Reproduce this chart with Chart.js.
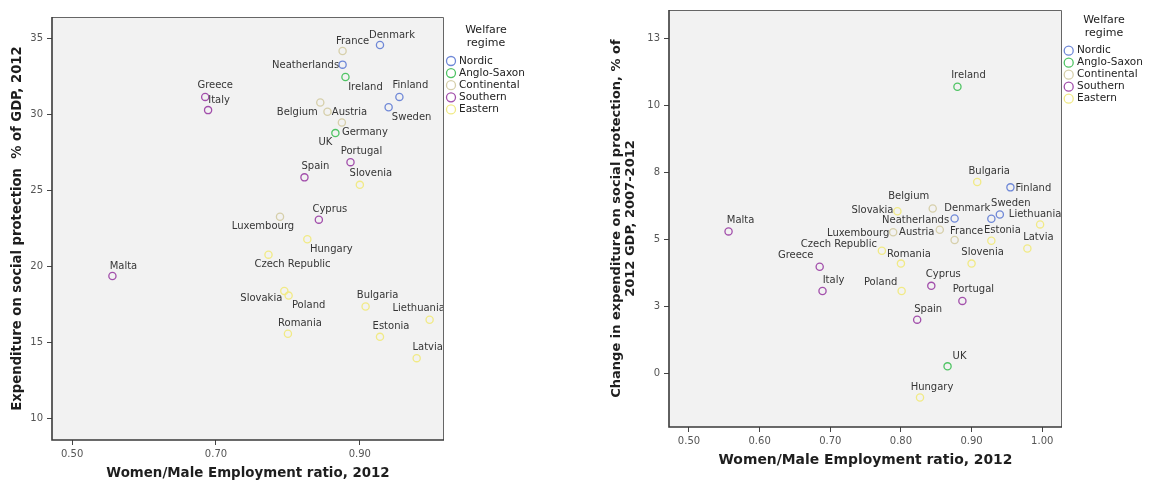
<!DOCTYPE html>
<html>
<head>
<meta charset="utf-8">
<title>Welfare regimes: employment ratio and social protection</title>
<script src="https://cdn.jsdelivr.net/npm/chart.js@4/dist/chart.umd.min.js"></script>
<style>
  html, body { margin: 0; padding: 0; background: #fff; }
  #wrap { position: relative; width: 1156px; height: 485px; overflow: hidden; }
  canvas { position: absolute; top: 0; }
  #left { left: 0; }
  #right { left: 578px; }
</style>
</head>
<body>
<div id="wrap">
  <canvas id="left" width="578" height="485"></canvas>
  <canvas id="right" width="578" height="485"></canvas>
</div>
<script>
// ---- data -------------------------------------------------------------
const countries = ['Denmark', 'Finland', 'Sweden', 'Neatherlands', 'Ireland', 'UK',
  'France', 'Belgium', 'Austria', 'Germany', 'Luxembourg',
  'Greece', 'Italy', 'Portugal', 'Spain', 'Cyprus', 'Malta',
  'Slovenia', 'Hungary', 'Czech Republic', 'Slovakia', 'Poland', 'Romania',
  'Bulgaria', 'Liethuania', 'Estonia', 'Latvia'];

const regimeOf = ['Nordic', 'Nordic', 'Nordic', 'Nordic', 'Anglo-Saxon', 'Anglo-Saxon',
  'Continental', 'Continental', 'Continental', 'Continental', 'Continental',
  'Southern', 'Southern', 'Southern', 'Southern', 'Southern', 'Southern',
  'Eastern', 'Eastern', 'Eastern', 'Eastern', 'Eastern', 'Eastern',
  'Eastern', 'Eastern', 'Eastern', 'Eastern'];

// Women/Male employment ratio, 2012
const employmentRatio = [0.928, 0.955, 0.940, 0.876, 0.880, 0.866,
  0.876, 0.845, 0.855, 0.875, 0.789,
  0.685, 0.689, 0.887, 0.823, 0.843, 0.556,
  0.900, 0.827, 0.773, 0.795, 0.801, 0.800,
  0.908, 0.997, 0.928, 0.979];

// Expenditure on social protection, % of GDP, 2012
const spending2012 = [34.56, 31.15, 30.47, 33.27, 32.46, 28.77,
  34.17, 30.78, 30.17, 29.47, 23.27,
  31.15, 30.28, 26.86, 25.86, 23.08, 19.38,
  25.37, 21.79, 20.78, 18.40, 18.09, 15.58,
  17.37, 16.50, 15.38, 13.98];

// Change in expenditure on social protection, % of 2012 GDP, 2007-2012
const spendingChange = [5.78, 6.95, 5.94, 5.79, 10.70, 0.28,
  4.99, 6.16, 5.37, null, 5.28,
  3.99, 3.09, 2.72, 2.02, 3.28, 5.31,
  4.11, -0.88, 4.59, 6.06, 3.09, 4.11,
  7.15, 5.57, 4.96, 4.67];

const regimes = ['Nordic', 'Anglo-Saxon', 'Continental', 'Southern', 'Eastern'];
const regimeColors = ['#6f88d7', '#4fc464', '#d6cfaa', '#a24fab', '#f1ea86'];

const leftXTicks = [0.5, 0.7, 0.9];
const leftXTickLabels = ['0.50', '0.70', '0.90'];
const leftYTicks = [10, 15, 20, 25, 30, 35];
const leftYTickLabels = ['10', '15', '20', '25', '30', '35'];

const rightXTicks = [0.5, 0.6, 0.7, 0.8, 0.9, 1.0];
const rightXTickLabels = ['0.50', '0.60', '0.70', '0.80', '0.90', '1.00'];
const rightYTicks = [0, 2.5, 5, 7.5, 10, 12.5];
const rightYTickLabels = ['0', '3', '5', '8', '10', '13'];

// ---- label placement (offset of each name from its marker) ------------
const leftLabelOffsets = {
  'Denmark': [12, -10], 'Finland': [11, -11], 'Sweden': [23, 10], 'Neatherlands': [-37, 1],
  'Ireland': [20, 10], 'UK': [-10, 9], 'France': [10, -10], 'Belgium': [-23, 10],
  'Austria': [22, 1], 'Germany': [23, 10], 'Luxembourg': [-17, 10], 'Greece': [10, -11],
  'Italy': [11, -10], 'Portugal': [11, -11], 'Spain': [11, -11], 'Cyprus': [11, -10],
  'Malta': [11, -10], 'Slovenia': [11, -11], 'Hungary': [24, 10], 'Czech Republic': [24, 10],
  'Slovakia': [-23, 8], 'Poland': [20, 10], 'Romania': [12, -10], 'Bulgaria': [12, -11],
  'Liethuania': [-11, -11], 'Estonia': [11, -10], 'Latvia': [11, -11]
};
const rightLabelOffsets = {
  'Denmark': [-24, -10], 'Finland': [23, 1], 'Sweden': [11, -11], 'Neatherlands': [-39, 2],
  'Ireland': [11, -11], 'UK': [12, -10], 'France': [12, -9], 'Belgium': [-24, -12],
  'Austria': [-23, 3], 'Luxembourg': [-35, 1], 'Greece': [-24, -11], 'Italy': [11, -11],
  'Portugal': [11, -11], 'Spain': [11, -10], 'Cyprus': [12, -11], 'Malta': [12, -11],
  'Slovenia': [11, -11], 'Hungary': [12, -10], 'Czech Republic': [-43, -6], 'Slovakia': [-25, -1],
  'Poland': [-21, -9], 'Romania': [8, -9], 'Bulgaria': [12, -11], 'Liethuania': [-5, -10],
  'Estonia': [11, -10], 'Latvia': [11, -11]
};

const FONT = "'DejaVu Sans', 'Liberation Sans', sans-serif";

// ---- plugins ----------------------------------------------------------
const plotFrame = {
  id: 'plotFrame',
  beforeDraw(chart) {
    const { ctx, chartArea: a } = chart;
    ctx.save();
    ctx.fillStyle = '#f2f2f2';
    ctx.fillRect(a.left, a.top, a.right - a.left, a.bottom - a.top);
    ctx.restore();
  },
  afterDraw(chart) {
    const { ctx, chartArea: a } = chart;
    ctx.save();
    ctx.strokeStyle = '#666';
    ctx.lineWidth = 1;
    ctx.beginPath();
    ctx.moveTo(a.left, a.top + 0.5);
    ctx.lineTo(a.right - 0.5, a.top + 0.5);
    ctx.lineTo(a.right - 0.5, a.bottom);
    ctx.stroke();
    ctx.strokeStyle = '#3a3a3a';
    ctx.lineWidth = 1.6;
    ctx.beginPath();
    ctx.moveTo(a.left, a.top);
    ctx.lineTo(a.left, a.bottom);
    ctx.lineTo(a.right, a.bottom);
    ctx.stroke();
    ctx.restore();
  }
};

const pointNames = {
  id: 'pointNames',
  afterDatasetsDraw(chart, args, opts) {
    const ctx = chart.ctx;
    ctx.save();
    ctx.font = '10px ' + FONT;
    ctx.fillStyle = '#363636';
    ctx.textAlign = 'center';
    ctx.textBaseline = 'middle';
    chart.data.datasets.forEach((ds, di) => {
      chart.getDatasetMeta(di).data.forEach((pt, i) => {
        const name = ds.data[i].name;
        const off = opts.offsets[name] || [10, -10];
        ctx.fillText(name, pt.x + off[0], pt.y + off[1]);
      });
    });
    ctx.restore();
  }
};

const regimeLegend = {
  id: 'regimeLegend',
  afterDraw(chart, args, o) {
    const ctx = chart.ctx;
    ctx.save();
    ctx.fillStyle = '#222';
    ctx.textBaseline = 'middle';
    ctx.textAlign = 'center';
    ctx.font = '11px ' + FONT;
    ctx.fillText('Welfare', o.titleX, o.titleY);
    ctx.fillText('regime', o.titleX, o.titleY + 13);
    ctx.font = '10.5px ' + FONT;
    ctx.textAlign = 'left';
    regimes.forEach((r, i) => {
      const y = o.itemY + i * o.itemGap;
      ctx.beginPath();
      ctx.arc(o.markerX, y, 4.5, 0, Math.PI * 2);
      ctx.strokeStyle = regimeColors[i];
      ctx.lineWidth = 1.3;
      ctx.stroke();
      ctx.fillText(r, o.textX, y);
    });
    ctx.restore();
  }
};

// ---- helpers ----------------------------------------------------------
function datasetsFor(yValues) {
  return regimes.map((r, ri) => ({
    label: r,
    data: countries
      .map((c, i) => ({ x: employmentRatio[i], y: yValues[i], name: c, regime: regimeOf[i] }))
      .filter(p => p.regime === r && p.y !== null),
    pointStyle: 'circle',
    pointRadius: 3.6,
    pointHoverRadius: 3.6,
    pointBorderWidth: 1.3,
    borderColor: regimeColors[ri],
    backgroundColor: 'rgba(0,0,0,0)',
    showLine: false
  }));
}

function axis(opts) {
  return {
    type: 'linear',
    min: opts.min,
    max: opts.max,
    afterBuildTicks: s => { s.ticks = opts.ticks.map(v => ({ value: v })); },
    afterFit: s => { if (opts.width !== undefined) s.width = opts.width; if (opts.height !== undefined) s.height = opts.height; },
    ticks: {
      callback: (v, i) => opts.labels[i],
      font: { family: FONT, size: 10 },
      color: '#555',
      padding: opts.tickPad,
      autoSkip: false,
      maxRotation: 0,
      minRotation: 0
    },
    grid: { display: true, drawOnChartArea: false, drawTicks: true, tickLength: 5, tickColor: '#444', tickWidth: 1 },
    border: { display: false },
    title: {
      display: true,
      text: opts.title,
      color: '#1e1e1e',
      font: { family: FONT, size: opts.titleSize, weight: 'bold', lineHeight: opts.titleLH || 1.2 },
      padding: opts.titlePad
    }
  };
}

Chart.defaults.font.family = FONT;

// ---- left: expenditure level ------------------------------------------
new Chart(document.getElementById('left'), {
  type: 'scatter',
  data: { datasets: datasetsFor(spending2012) },
  options: {
    responsive: false,
    animation: false,
    events: [],
    layout: { padding: { left: 0, top: 17, right: 134, bottom: 0 } },
    plugins: {
      legend: { display: false },
      tooltip: { enabled: false },
      pointNames: { offsets: leftLabelOffsets },
      regimeLegend: { titleX: 486, titleY: 30, markerX: 451, textX: 459, itemY: 61, itemGap: 12.1 }
    },
    scales: {
      x: axis({ min: 0.472, max: 1.017, ticks: leftXTicks, labels: leftXTickLabels, height: 45, tickPad: 3,
        title: 'Women/Male Employment ratio, 2012', titleSize: 13.4, titlePad: { top: 0, bottom: 3 } }),
      y: axis({ min: 8.6, max: 36.4, ticks: leftYTicks, labels: leftYTickLabels, width: 52, tickPad: 4,
        title: 'Expenditure on social protection  % of GDP, 2012', titleSize: 13.2, titlePad: { top: 10, bottom: 0 } })
    }
  },
  plugins: [plotFrame, pointNames, regimeLegend]
});

// ---- right: change in expenditure -------------------------------------
new Chart(document.getElementById('right'), {
  type: 'scatter',
  data: { datasets: datasetsFor(spendingChange) },
  options: {
    responsive: false,
    animation: false,
    events: [],
    layout: { padding: { left: 0, top: 7, right: 94, bottom: 0 } },
    plugins: {
      legend: { display: false },
      tooltip: { enabled: false },
      pointNames: { offsets: rightLabelOffsets },
      regimeLegend: { titleX: 526, titleY: 20.5, markerX: 490.7, textX: 499, itemY: 50.7, itemGap: 12 }
    },
    scales: {
      x: axis({ min: 0.4717, max: 1.028, ticks: rightXTicks, labels: rightXTickLabels, height: 58, tickPad: 3,
        title: 'Women/Male Employment ratio, 2012', titleSize: 13.9, titlePad: { top: 0, bottom: 16 } }),
      y: axis({ min: -1.98, max: 13.56, ticks: rightYTicks, labels: rightYTickLabels, width: 91, tickPad: 4,
        title: ['Change in expenditure on social protection, % of', '2012 GDP, 2007-2012'],
        titleSize: 13, titleLH: 1.08, titlePad: { top: 32, bottom: 0 } })
    }
  },
  plugins: [plotFrame, pointNames, regimeLegend]
});
</script>
</body>
</html>
